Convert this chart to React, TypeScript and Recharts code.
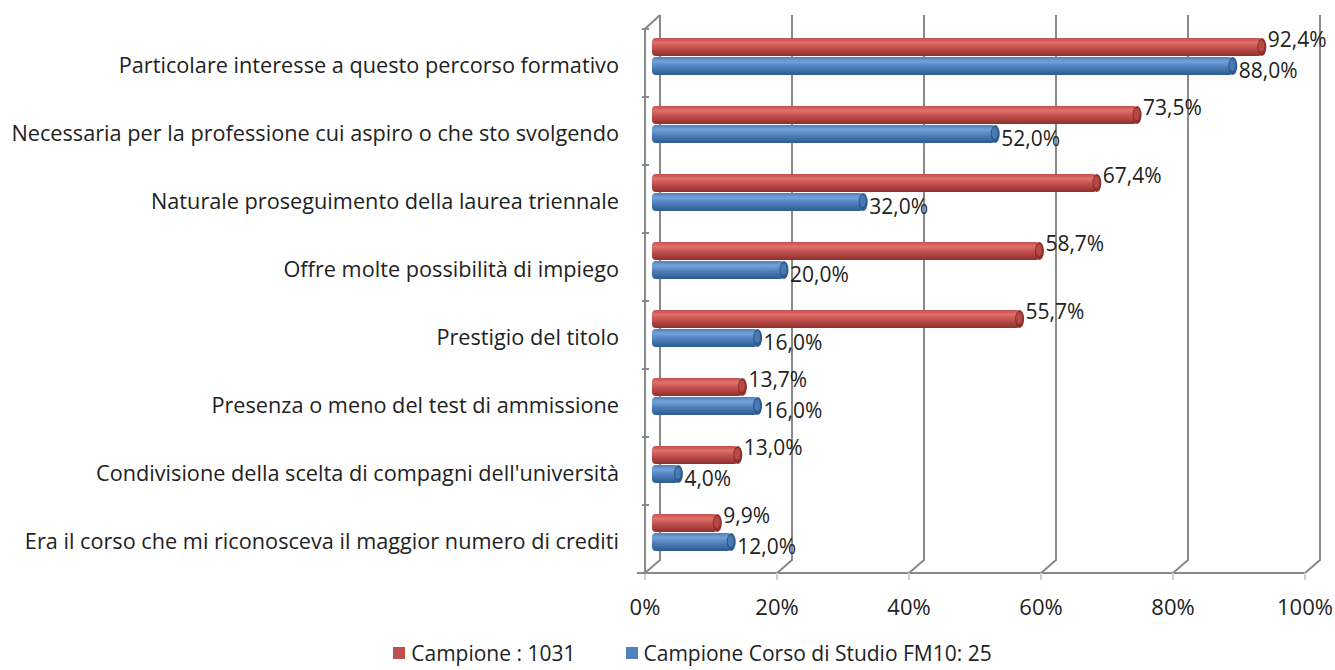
import { BarChart, Bar, XAxis, YAxis, CartesianGrid, Legend, LabelList } from 'recharts';

const categories = [
  'Particolare interesse a questo percorso formativo',
  'Necessaria per la professione cui aspiro o che sto svolgendo',
  'Naturale proseguimento della laurea triennale',
  'Offre molte possibilità di impiego',
  'Prestigio del titolo',
  'Presenza o meno del test di ammissione',
  "Condivisione della scelta di compagni dell'università",
  'Era il corso che mi riconosceva il maggior numero di crediti',
];
const campione = [92.4, 73.5, 67.4, 58.7, 55.7, 13.7, 13.0, 9.9];
const corsoFM10 = [88.0, 52.0, 32.0, 20.0, 16.0, 16.0, 4.0, 12.0];
const xTicks = [0, 20, 40, 60, 80, 100];

const SERIES = [
  { key: 'campione', name: 'Campione : 1031', color: '#C0504D', light: '#E2706C', dark: '#8E302D', labelDy: -8 },
  { key: 'fm10', name: 'Campione Corso di Studio FM10: 25', color: '#4F81BD', light: '#74A0D8', dark: '#2F5A8E', labelDy: 4 },
];

const W = 1335;
const H = 670;
const M = { top: 22, right: 23, bottom: 74, left: 12 };
const Y_AXIS_W = 640;
const X_AXIS_H = 30;
const BAND_HALF = (H - M.top - M.bottom - X_AXIS_H) / categories.length / 2;
const FONT = '"Open Sans", Lato, sans-serif';
const FS = 22;
const GRID = '#8a8a8a';

const data = categories.map((name, i) => ({ name, campione: campione[i], fm10: corsoFM10[i] }));

const fmt = (v: number) => v.toFixed(1).replace('.', ',') + '%';

function GridLine(props: any) {
  const { x1, y1, y2, index, x, width } = props;
  return (
    <g key={`g-${index}`}>
      <path d={`M${x1 + 8},${y1 - 7} L${x1 + 8},${y2 - 6} L${x1 - 7},${y2 + 7}`} fill="none" stroke={GRID} strokeWidth={2} />
      {index === 0 && (
        <g>
          <path d={`M${x1 + 8},${y1 - 7} L${x1 - 7},${y1 + 7} L${x1 - 7},${y2 + 7}`} fill="none" stroke={GRID} strokeWidth={2} />
          <line x1={x - 15} y1={y2 + 7} x2={x + width - 7} y2={y2 + 7} stroke={GRID} strokeWidth={2} />
        </g>
      )}
    </g>
  );
}

function XTick(props: any) {
  const { x, y, payload } = props;
  return (
    <g>
      <line x1={x - 7} y1={y - 1} x2={x - 7} y2={y + 6} stroke="#cfcfcf" strokeWidth={2} />
      <text x={x - 7} y={y + 41} textAnchor="middle" fontFamily={FONT} fontSize={FS} fill="#222">
        {payload.value}%
      </text>
    </g>
  );
}

function YTick(props: any) {
  const { x, y, payload, index } = props;
  const wallX = x + 5;
  return (
    <g>
      <line x1={wallX - 7} y1={y - BAND_HALF + 7} x2={wallX} y2={y - BAND_HALF + 7} stroke={GRID} strokeWidth={2} />
      {index === categories.length - 1 && (
        <line x1={wallX - 7} y1={y + BAND_HALF + 7} x2={wallX} y2={y + BAND_HALF + 7} stroke={GRID} strokeWidth={2} />
      )}
      <text x={x - 25} y={y + 8} dominantBaseline="central" textAnchor="end" fontFamily={FONT} fontSize={FS - 0.3} fill="#222">
        {payload.value}
      </text>
    </g>
  );
}

function makeCylinder(s: (typeof SERIES)[number]) {
  return (props: any) => {
    const { x, y, width, height } = props;
    if (!width || width <= 0) return null;
    const cy = y + height / 2;
    return (
      <g>
        <rect x={x} y={y} width={width} height={height} rx={4} ry={4} fill={`url(#grad-${s.key})`} />
        <ellipse cx={x + width} cy={cy} rx={4.5} ry={height / 2} fill={s.dark} />
        <ellipse cx={x + width - 0.5} cy={cy - 1} rx={3} ry={height / 2 - 3} fill={s.color} opacity={0.8} />
      </g>
    );
  };
}

function makeLabel(s: (typeof SERIES)[number]) {
  return (props: any) => {
    const { x, y, width, height, value } = props;
    return (
      <text x={x + width + 6} y={y + height / 2 + s.labelDy} dominantBaseline="central" fontFamily={FONT} fontSize={FS - 1} fill="#222">
        {fmt(value)}
      </text>
    );
  };
}

function LegendContent() {
  return (
    <div style={{ display: 'flex', justifyContent: 'center', gap: 50, fontFamily: FONT, fontSize: FS - 1, color: '#222', paddingLeft: 50, lineHeight: '26px' }}>
      {SERIES.map((s) => (
        <div key={s.key} style={{ display: 'flex', alignItems: 'center', gap: 6 }}>
          <span style={{ width: 12, height: 12, background: s.color, display: 'inline-block' }} />
          <span>{s.name}</span>
        </div>
      ))}
    </div>
  );
}

export default function App() {
  return (
    <div style={{ position: 'absolute', left: 0, top: 0, width: W, height: H, background: '#fff', overflow: 'hidden' }}>
      <BarChart
        width={W}
        height={H}
        data={data}
        layout="vertical"
        margin={M}
        barSize={18}
        barGap={1}
      >
        <defs>
          {SERIES.map((s) => (
            <linearGradient key={s.key} id={`grad-${s.key}`} x1="0" y1="0" x2="0" y2="1">
              <stop offset="0%" stopColor={s.color} />
              <stop offset="25%" stopColor={s.light} />
              <stop offset="55%" stopColor={s.color} />
              <stop offset="100%" stopColor={s.dark} />
            </linearGradient>
          ))}
        </defs>
        <CartesianGrid horizontal={false} vertical={GridLine as any} />
        <XAxis
          type="number"
          domain={[0, 100]}
          ticks={xTicks}
          axisLine={false}
          tickLine={false}
          height={X_AXIS_H}
          tick={XTick}
          interval={0}
        />
        <YAxis
          type="category"
          dataKey="name"
          width={Y_AXIS_W}
          axisLine={false}
          tickLine={false}
          tick={YTick}
          interval={0}
        />
        <Legend
          layout="vertical"
          align="center"
          verticalAlign="middle"
          content={LegendContent}
          wrapperStyle={{ left: 0, top: 640, width: W }}
        />
        {SERIES.map((s) => (
          <Bar key={s.key} dataKey={s.key} name={s.name} fill={s.color} shape={makeCylinder(s)} isAnimationActive={false}>
            <LabelList dataKey={s.key} content={makeLabel(s)} />
          </Bar>
        ))}
      </BarChart>
    </div>
  );
}
